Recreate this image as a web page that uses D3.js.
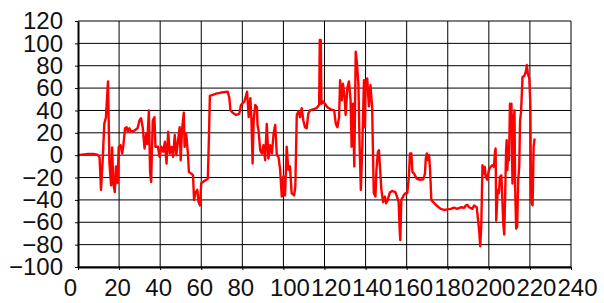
<!DOCTYPE html>
<html>
<head>
<meta charset="utf-8">
<script src="https://cdn.jsdelivr.net/npm/d3@7"></script>
<style>
  html, body { margin: 0; padding: 0; background: #fff; }
  svg { display: block; }
</style>
</head>
<body>
<svg id="chart" width="604" height="303"></svg>
<script>
// Tick values
const xTicks = [0, 20, 40, 60, 80, 100, 120, 140, 160, 180, 200, 220, 240];
const yTicks = [-100, -80, -60, -40, -20, 0, 20, 40, 60, 80, 100, 120];

// Series
const xs = [
  0, 2, 5, 8, 9.5, 10.5, 11.2, 12, 12.8, 13.6, 14.6, 15.3, 16.1, 16.6, 17.2, 17.9, 18.5, 19.3, 19.8, 20.7,
  21.5, 22.1, 22.9, 23.7, 24.2, 25, 25.8, 27.5, 29, 29.9, 30.7, 31.5, 32.4, 33.2, 33.7, 34.5, 35.1, 35.6, 36.4, 37.2,
  37.7, 38.9, 39.7, 40.6, 41.5, 42.3, 43.1, 43.9, 44.7, 45.5, 46.3, 47.1, 47.9, 48.7, 49.5, 50, 50.6, 51.5, 51.9, 52.7,
  53.5, 54, 55.2, 56, 56.5, 57.1, 58.1, 58.7, 59.4, 60, 60.8, 62.4, 63.2, 63.7, 64.2, 65.6, 67.3, 69.7, 72.9, 73.7,
  74.2, 75.3, 76.9, 78.5, 79.4, 81, 82.3, 83.1, 83.9, 84.4, 85, 85.5, 86.3, 87.1, 87.4, 87.9, 88.7, 89.5, 90.3, 91.1,
  91.9, 92.7, 93.5, 94.4, 95.2, 96, 96.8, 97.6, 98.4, 99.2, 100, 100.8, 101.6, 102.4, 103.2, 104, 105.2, 105.8, 106.5, 107.3,
  108.1, 108.9, 109.7, 110.5, 111.3, 112.1, 112.9, 114.5, 116.1, 117.4, 117.7, 118.2, 118.5, 119.4, 121.5, 123.1, 124.7, 125.5, 126.3, 127.1,
  127.6, 128.4, 129, 129.8, 130.3, 131.1, 131.9, 132.7, 133.2, 133.9, 134.5, 135.2, 135.8, 136.5, 137.1, 137.7, 138.4, 139.2, 139.7, 140,
  140.8, 141.6, 142.4, 143.2, 143.7, 144, 144.8, 145.3, 146, 146.5, 146.9, 147.7, 148.5, 149.4, 150, 150.8, 151.8, 152.9, 154.5, 155.3,
  156.1, 156.6, 156.9, 157.4, 158.5, 159.4, 160.3, 161.1, 161.6, 162.3, 162.8, 163.6, 164.9, 166.5, 168.1, 168.9, 169.3, 169.8, 170.4, 170.9,
  171.4, 172, 173.3, 175, 176.6, 178.2, 179.8, 181.5, 183.1, 184.7, 186.3, 188, 188.8, 189.6, 190.4, 192, 192.8, 194.1, 194.8, 195.4,
  195.8, 196.3, 196.6, 196.9, 197.4, 198, 198.5, 199.2, 200, 200.8, 201.6, 202.5, 203, 203.3, 203.6, 204.3, 204.9, 205.4, 206.1, 206.6,
  207, 207.5, 207.9, 208.4, 208.7, 209, 209.5, 209.8, 210.3, 210.7, 211, 211.5, 212, 212.5, 212.8, 213.3, 213.8, 214.3, 214.8, 215.2,
  215.7, 216.4, 217.2, 218, 218.5, 219, 219.7, 220.2, 220.5, 220.8, 221.3, 221.8, 222.3
];
const ys = [
  0, 0.5, 1, 1, 0.5, -2, -31, -5, 28, 34, 66, -7, -27, 7, -25, -33, -10, -25, 7, 9,
  1.5, 9, 24, 25, 21, 24, 21, 22, 24, 31, 33, 25, 6, 19, 10, 40, -15, -24, 31, 34,
  7.5, 7.5, -1.5, 7.5, 3, 12, -7.5, 21, 1.5, 7.5, -1.5, 18, 0, 13, 25, -4.5, 22, 38, 7.5, 19,
  1.5, -15, -16.5, -18, -40, -34, -31, -42, -45, -25, -24, -22, -21, 13, 53, 54, 55, 56, 56.7, 51,
  40, 38, 36, 37, 45, 48, 56.7, 34, 51, 34, -7.5, 31, 45, 43, 27, 22, 4.5, 1.5, 9, -4.5,
  28, -3, 9, 1.5, 19, 27, 0, -1.5, -13, -37, -19, -36, 7.5, -13, -10, -34, -36, -28, 36, 39,
  34, 42, 31, 25, 24, 37, 40, 41, 42, 45, 103, 103, 46, 48, 42.7, 41, 40, 28, 25, 34,
  67, 49, 64, 51, 36, 60, 66, 49, 7.5, 46, -10, 92.5, 82, 64, 7.5, -31, 7.5, 67, 25, 64,
  68.7, 43.7, 62.7, 42, -7.5, -34, -37, -13, 3, 4.5, -7.5, -31, -42, -37, -43, -40, -33.4, -32, -33, -37,
  -42, -67, -76, -40, -36, -34, -34, -19, 1.5, 1.5, -15, -16.5, -21, -22, -21.5, -16.5, -3, 1.5, -4.5, 0,
  -13, -40, -42.7, -45.7, -48, -49, -48.5, -48, -47, -48, -46.6, -47, -45, -44.5, -46.6, -48, -45, -46.6, -58.5, -70,
  -81.5, -64, -37, -9, -16.5, -10.4, -19.4, -22, -13.4, -10.4, -9, -10.4, 3, 6, -58.5, -31, -34, -19.4, -18, -40,
  -60.6, -71, -40, 4.5, 13.4, -13.4, 7.5, -4.5, 46, 37, 46, -25.4, 31, 40, -28, -65.6, -64, -22, -10.4, 31,
  39, 70, 70.7, 74.6, 80.6, 73, 68.7, 46, -28, -43, -44.8, 7.5, 14.9
];

const data = xs.map((x, i) => ({ x, y: ys[i] }));

const svg = d3.select('#chart');
const plotLeft = 78, plotRight = 571, plotTop = 21, plotBottom = 267;

const xScale = d3.scaleLinear().domain([0, 240]).range([plotLeft, plotRight]);
const yScale = d3.scaleLinear().domain([-100, 120]).range([plotBottom, plotTop]);

// White background
svg.append('rect')
  .attr('width', 604).attr('height', 303)
  .attr('fill', '#fff');

// Grid lines
svg.append('g')
  .attr('class', 'grid-y')
  .selectAll('line')
  .data(yTicks)
  .join('line')
  .attr('x1', plotLeft).attr('x2', plotRight)
  .attr('y1', d => yScale(d)).attr('y2', d => yScale(d))
  .attr('stroke', '#000')
  .attr('stroke-width', 1);

svg.append('g')
  .attr('class', 'grid-x')
  .selectAll('line')
  .data(xTicks.filter(d => d > 0))
  .join('line')
  .attr('x1', d => xScale(d)).attr('x2', d => xScale(d))
  .attr('y1', plotTop).attr('y2', plotBottom)
  .attr('stroke', '#000')
  .attr('stroke-width', 1);

// Data line
const line = d3.line()
  .x(d => xScale(d.x))
  .y(d => yScale(d.y));

svg.append('path')
  .datum(data)
  .attr('fill', 'none')
  .attr('stroke', '#ff0000')
  .attr('stroke-width', 2.4)
  .attr('stroke-linejoin', 'round')
  .attr('d', line);

// X axis
const xAxis = svg.append('g')
  .attr('transform', `translate(0,${plotBottom})`)
  .call(d3.axisBottom(xScale).tickValues(xTicks).tickSize(3).tickPadding(8.5).tickSizeOuter(0));
xAxis.select('.domain').attr('stroke', '#000').attr('stroke-width', 2);
xAxis.selectAll('.tick line').attr('stroke', '#000').attr('stroke-width', 1);
xAxis.selectAll('text')
  .attr('fill', '#111')
  .attr('font-family', '"Liberation Sans", Arial, sans-serif')
  .attr('font-size', '24px')
  .attr('dx', d => { const n = String(d).length; return n === 1 ? -8 : n === 2 ? -2 : 6; });

// Y axis
const yAxis = svg.append('g')
  .attr('transform', `translate(${plotLeft},0)`)
  .call(d3.axisLeft(yScale).tickValues(yTicks).tickSize(3).tickPadding(12).tickSizeOuter(0));
yAxis.select('.domain').attr('stroke', '#000').attr('stroke-width', 2);
yAxis.selectAll('.tick line').attr('stroke', '#000').attr('stroke-width', 1);
yAxis.selectAll('text')
  .attr('fill', '#111')
  .attr('font-family', '"Liberation Sans", Arial, sans-serif')
  .attr('font-size', '24px');
</script>
</body>
</html>
